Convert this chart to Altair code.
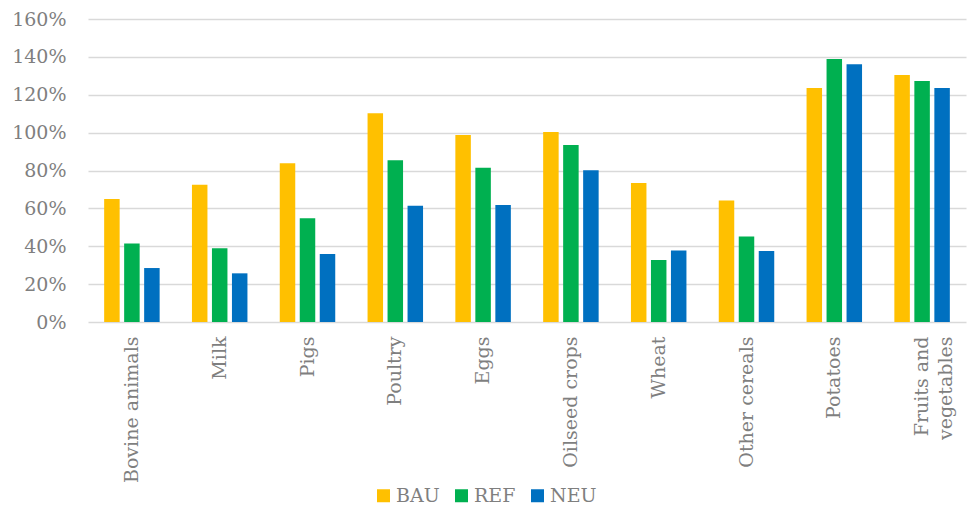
import altair as alt
import pandas as pd

categories = ["Bovine animals", "Milk", "Pigs", "Poultry", "Eggs", "Oilseed crops",
              "Wheat", "Other cereals", "Potatoes", "Fruits and vegetables"]
scenarios = ["BAU", "REF", "NEU"]
bau = [0.650, 0.725, 0.838, 1.102, 0.987, 1.003, 0.734, 0.642, 1.236, 1.304]
ref = [0.415, 0.390, 0.548, 0.854, 0.815, 0.935, 0.327, 0.451, 1.389, 1.273]
neu = [0.285, 0.257, 0.359, 0.614, 0.618, 0.801, 0.378, 0.375, 1.361, 1.236]
colors = ["#FFC000", "#00B050", "#0070C0"]

rows = []
for i, c in enumerate(categories):
    for s, vals in zip(scenarios, [bau, ref, neu]):
        rows.append({"category": c, "scenario": s, "value": vals[i]})
df = pd.DataFrame(rows)

font = "DejaVu Serif"
gray = "#7F7F7F"

chart = alt.Chart(df).mark_bar().encode(
    x=alt.X("category:N", sort=categories,
            scale=alt.Scale(paddingInner=0.368, paddingOuter=0.184),
            axis=alt.Axis(title=None, labelAngle=-90, labelFont=font, labelFontSize=19,
                          labelColor=gray, ticks=False, domain=False, labelPadding=14,
                          labelLimit=300, labelLineHeight=24,
                          labelExpr="datum.value == 'Fruits and vegetables' ? ['Fruits and', 'vegetables'] : datum.value")),
    xOffset=alt.XOffset("scenario:N", sort=scenarios,
                        scale=alt.Scale(paddingInner=0.225, paddingOuter=0)),
    y=alt.Y("value:Q", scale=alt.Scale(domain=[0, 1.6], nice=False),
            axis=alt.Axis(title=None, format=".0%", values=[0, 0.2, 0.4, 0.6, 0.8, 1.0, 1.2, 1.4, 1.6],
                          labelFont=font, labelFontSize=19, labelColor=gray,
                          ticks=False, domain=False, labelPadding=22,
                          gridColor="#D9D9D9", gridWidth=1.5)),
    color=alt.Color("scenario:N", sort=scenarios,
                    scale=alt.Scale(domain=scenarios, range=colors),
                    legend=alt.Legend(title=None, orient="none", direction="horizontal",
                                      legendX=286, legendY=467, symbolType="square",
                                      symbolSize=169, symbolStrokeWidth=0,
                                      labelFont=font, labelFontSize=19, labelColor=gray,
                                      labelOffset=3, columnPadding=12, padding=0)),
).properties(
    width=878, height=303,
    autosize=alt.AutoSizeParams(type="none"),
    padding={"left": 88, "top": 19, "right": 10, "bottom": 187},
).configure_view(stroke=None)

chart.save("out.html", embed_options={"renderer": "svg", "actions": False})
